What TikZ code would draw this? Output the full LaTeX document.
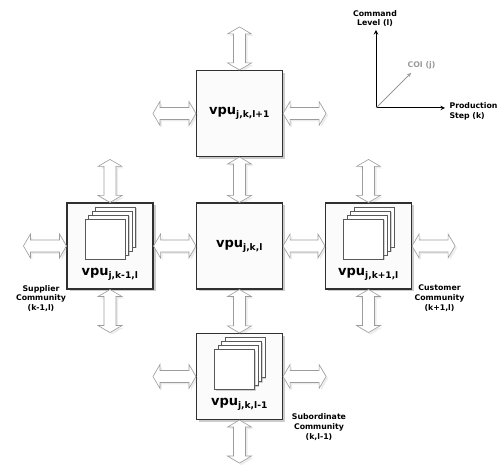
\documentclass[tikz,border=0pt]{standalone}
\usepackage{fontspec}
\setmainfont{DejaVu Sans}
\usepackage{xcolor}
\usepackage{tikz}
\usetikzlibrary{shadows,calc}
\makeatletter
\renewcommand\small{%
  \@setfontsize\small{7.8pt}{9.8pt}%
}
\renewcommand\large{%
  \@setfontsize\large{13pt}{15pt}%
}
\makeatother
\definecolor{boxline}{HTML}{303030}
\definecolor{arrline}{HTML}{9C9C9C}
\definecolor{coigray}{HTML}{9A9A9A}

\begin{document}
\begin{tikzpicture}[x=1pt, y=1pt, >=stealth, every node/.style={font=\small\bfseries},
  vpubox/.style={draw=boxline, line width=1.1pt, fill=gray!3, minimum size=86pt, inner sep=0pt,
    font=\large\bfseries, drop shadow={shadow xshift=2.5pt, shadow yshift=-2.5pt, opacity=.4}},
  page/.style={draw=boxline!80, line width=.5pt, fill=white, minimum size=40pt, inner sep=0pt,
    drop shadow={shadow xshift=1.2pt, shadow yshift=-1.2pt, opacity=.35}},
  blockarr/.style={draw=arrline, line width=.6pt, fill=white, line join=miter,
    drop shadow={shadow xshift=2pt, shadow yshift=-2pt, opacity=.15},
    to path={let \p1=(\tikztostart), \p2=(\tikztotarget),
      \n1={atan2(\y2-\y1,\x2-\x1)}, \n2={veclen(\x2-\x1,\y2-\y1)}, \n3={\n2-7pt} in
      [shift={(\p1)}, rotate=\n1] (0pt,0pt) -- (7pt,12pt) -- (7pt,6pt) -- (\n3,6pt) -- (\n3,12pt)
      -- (\n2,0pt) -- (\n3,-12pt) -- (\n3,-6pt) -- (7pt,-6pt) -- (7pt,-12pt) -- cycle}}]
  \useasboundingbox (0,0) rectangle (504,471);

  % the five units
  \node[vpubox] (vpuC) at (239.5,225) {vpu\textsubscript{j,k,l}};
  \node[vpubox] (vpuN) at (239.5,357.5) {vpu\textsubscript{j,k,l+1}};
  \node[vpubox] (vpuW) at (110,225) {};
  \node[vpubox] (vpuE) at (368.5,225) {};
  \node[vpubox] (vpuS) at (239.5,94.5) {};

  % stacked communities
  \foreach \b/\t in {vpuW/{j,k-1,l}, vpuE/{j,k+1,l}, vpuS/{j,k,l-1}} {
    \foreach \i in {3,2,1,0}
      \node[page] (\b-pg\i) at ($(\b)+(-5+3.5*\i,7+4*\i)$) {};
    \node[font=\large\bfseries] (\b-lbl) at ($(\b)+(0,-28)$) {vpu\textsubscript{\t}};
  }

  % links between units
  \draw[blockarr] (vpuN.south) to (vpuC.north);
  \draw[blockarr] (vpuC.west) to (vpuW.east);
  \draw[blockarr] (vpuC.east) to (vpuE.west);
  \draw[blockarr] (vpuC.south) to (vpuS.north);

  % open links
  \foreach \b/\d in {vpuN/north, vpuN/west, vpuN/east, vpuW/north, vpuW/west, vpuW/south,
      vpuE/north, vpuE/east, vpuE/south, vpuS/west, vpuS/east, vpuS/south} {
    \coordinate (\b-\d) at ($(\b.\d)!-43pt!(\b.center)$);
    \draw[blockarr] (\b.\d) to (\b-\d);
  }

  \node[align=center] (supL) at (41,172.5) {Supplier\\Community\\(k-1,l)};
  \node[align=center] (cusL) at (439.5,173) {Customer\\Community\\(k+1,l)};
  \node[align=center] (subL) at (319,44) {Subordinate\\Community\\(k,l-1)};

  % axes
  \coordinate (o) at (376,363);
  \coordinate (lvl) at (376,441);
  \coordinate (stp) at (445,363);
  \coordinate (coi) at (411,398);
  \draw[->, line width=1pt] (o) -- (lvl);
  \draw[->, line width=1pt] (o) -- (stp);
  \draw[->, draw=coigray, line width=.8pt] (o) -- (coi);
  \node[align=center] (lvlL) at (375,452.5) {Command\\Level (l)};
  \node[align=left, anchor=west] (stpL) at (446,360) {Production\\Step (k)};
  \node[text=coigray] (coiL) at (421.5,406) {COI (j)};
\end{tikzpicture}
\end{document}
